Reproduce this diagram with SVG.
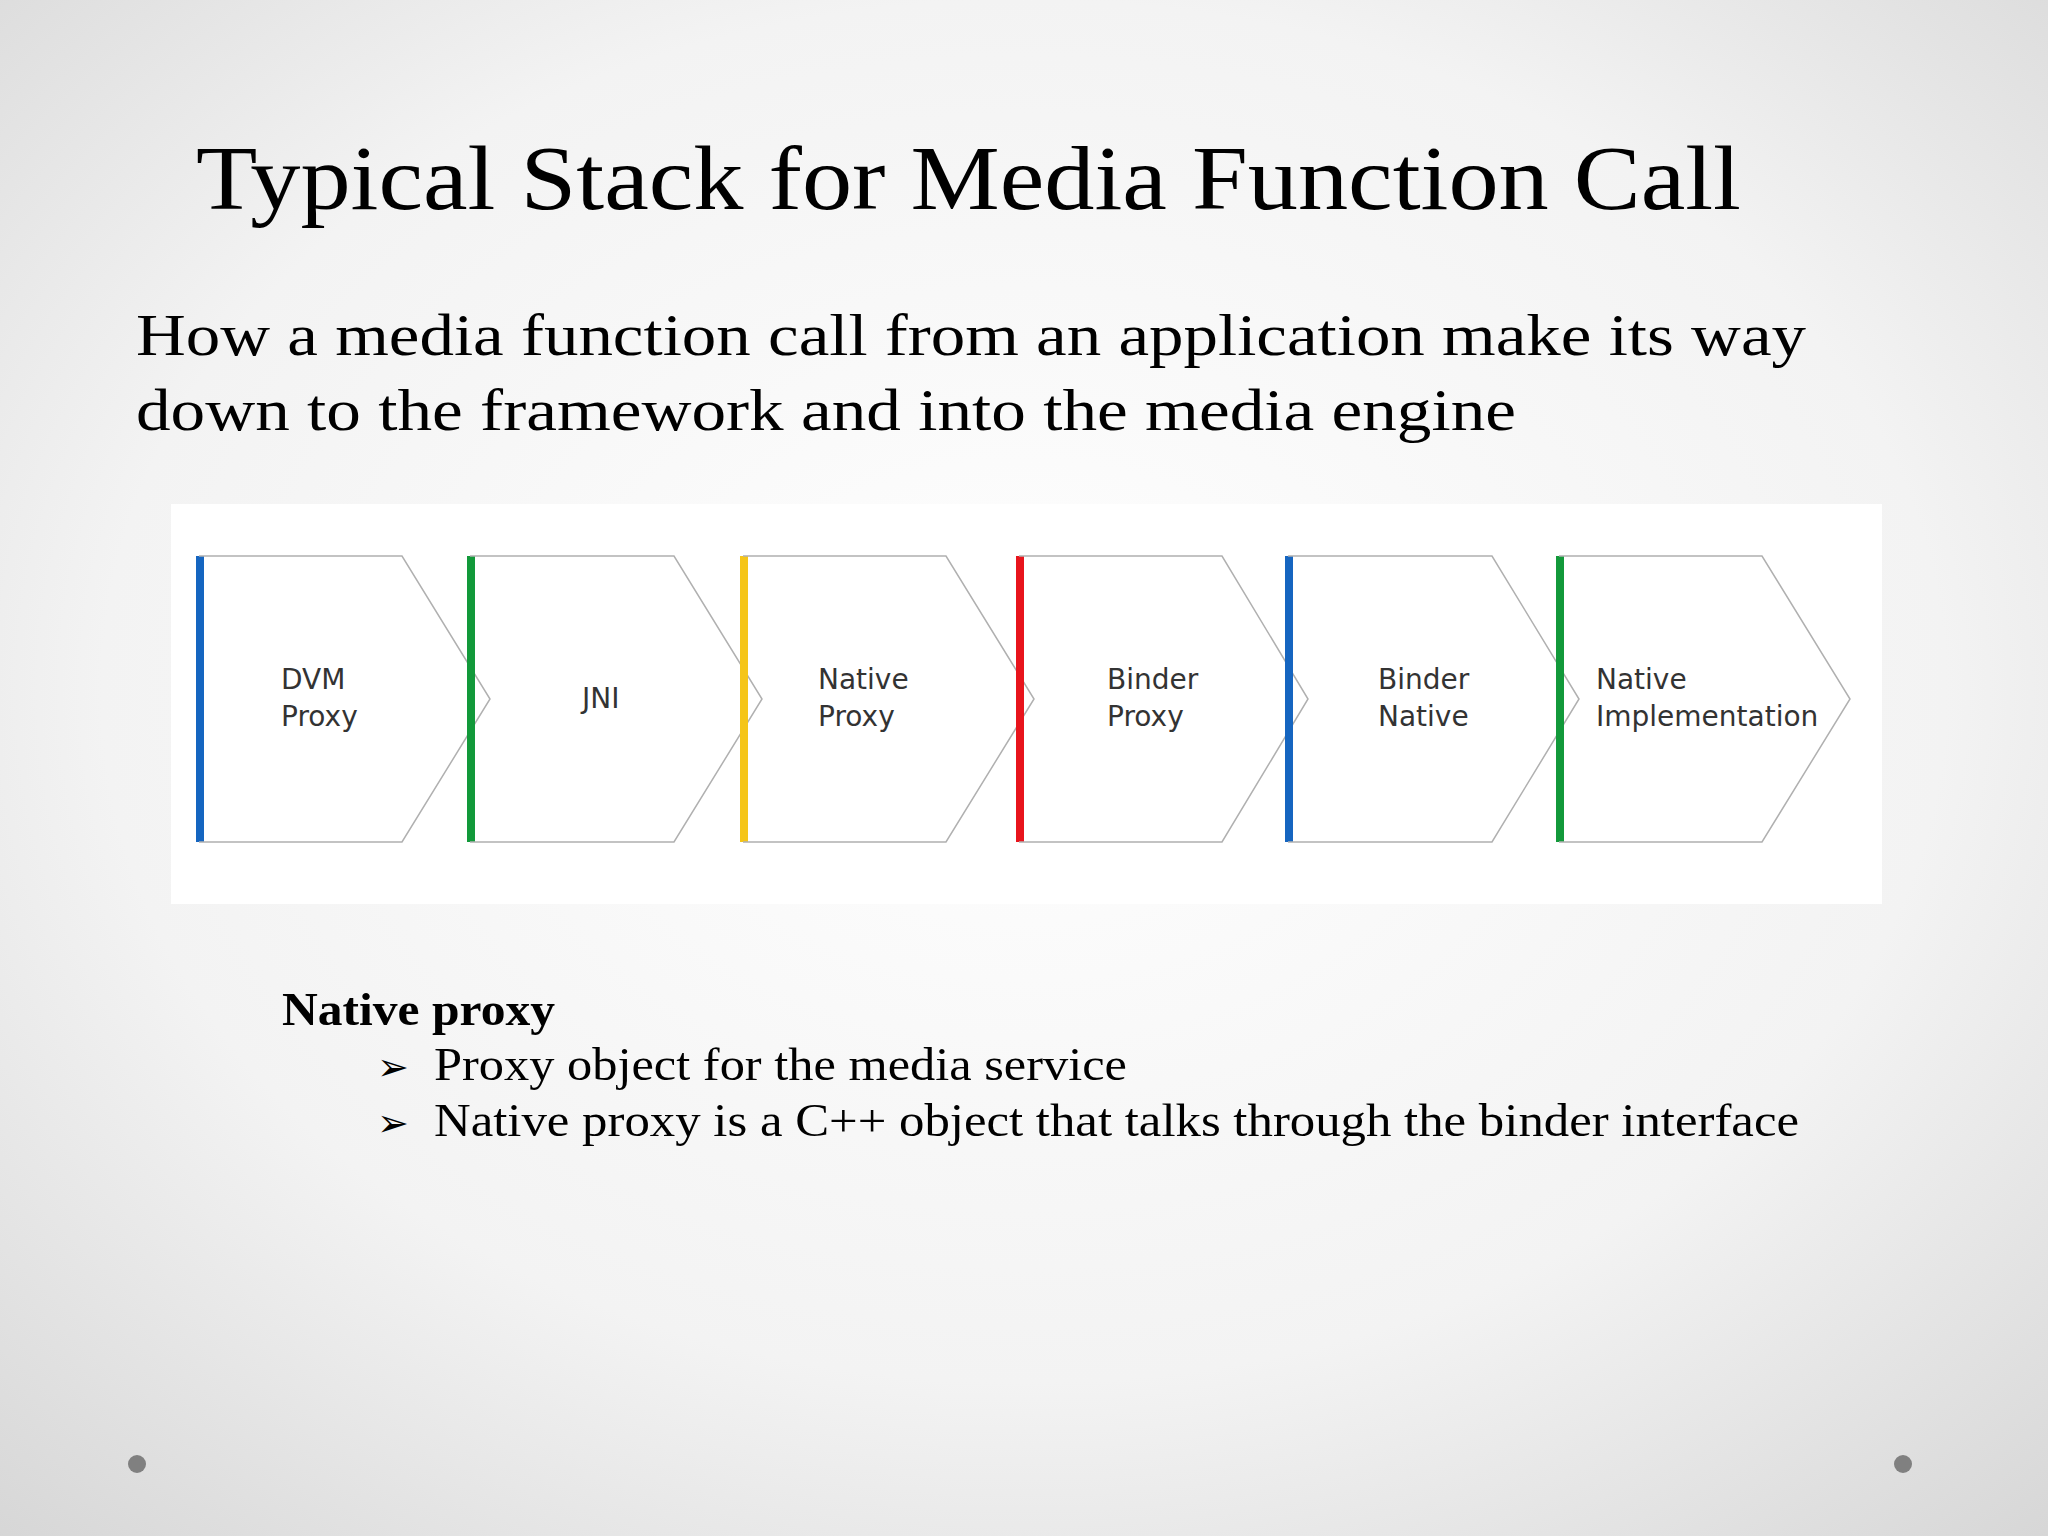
<svg xmlns="http://www.w3.org/2000/svg" width="2048" height="1536" viewBox="0 0 2048 1536">
<defs>
<radialGradient id="bg" cx="50%" cy="45%" r="75%">
<stop offset="0" stop-color="#ffffff"/><stop offset="0.6" stop-color="#f3f3f3"/><stop offset="1" stop-color="#d6d6d6"/>
</radialGradient>
</defs>
<style>
.t{font-family:"Liberation Serif","DejaVu Serif",serif;fill:#000}
.lbl{font-family:"DejaVu Sans","Liberation Sans",sans-serif;font-size:28px;fill:#333}
.chev{fill:none;stroke:#b0b0b0;stroke-width:1.5}
</style>
<rect width="2048" height="1536" fill="url(#bg)"/>
<text class="t" x="196" y="209" font-size="92" textLength="1545" lengthAdjust="spacingAndGlyphs">Typical Stack for Media Function Call</text>
<text class="t" x="136" y="355" font-size="60" textLength="1670" lengthAdjust="spacingAndGlyphs">How a media function call from an  application make its way</text>
<text class="t" x="136" y="430" font-size="60" textLength="1380" lengthAdjust="spacingAndGlyphs">down to the framework and into the media engine</text>
<rect x="171" y="504" width="1711" height="400" fill="#fff"/>
<g id="n1"><rect x="196" y="556" width="8" height="286" fill="#1565c0"/><path class="chev" d="M199,556 H402 L490,699 L402,842 H199"/><text class="lbl" x="281" y="689">DVM</text><text class="lbl" x="281" y="726">Proxy</text></g>
<g id="n2"><rect x="467" y="556" width="8" height="286" fill="#12993a"/><path class="chev" d="M470,556 H674 L762,699 L674,842 H470"/><text class="lbl" x="582" y="708">JNI</text></g>
<g id="n3"><rect x="740" y="556" width="8" height="286" fill="#f5c518"/><path class="chev" d="M743,556 H946 L1034,699 L946,842 H743"/><text class="lbl" x="818" y="689">Native</text><text class="lbl" x="818" y="726">Proxy</text></g>
<g id="n4"><rect x="1016" y="556" width="8" height="286" fill="#e8141c"/><path class="chev" d="M1019,556 H1222 L1308,699 L1222,842 H1019"/><text class="lbl" x="1107" y="689">Binder</text><text class="lbl" x="1107" y="726">Proxy</text></g>
<g id="n5"><rect x="1285" y="556" width="8" height="286" fill="#1565c0"/><path class="chev" d="M1288,556 H1492 L1579,699 L1492,842 H1288"/><text class="lbl" x="1378" y="689">Binder</text><text class="lbl" x="1378" y="726">Native</text></g>
<g id="n6"><rect x="1556" y="556" width="8" height="286" fill="#12993a"/><path class="chev" d="M1559,556 H1762 L1850,699 L1762,842 H1559"/><text class="lbl" x="1596" y="689">Native</text><text class="lbl" x="1596" y="726">Implementation</text></g>
<g id="connectors"/>
<text class="t" x="282" y="1025" font-size="47" font-weight="bold" textLength="273" lengthAdjust="spacingAndGlyphs">Native proxy</text>
<text class="t" x="377" y="1080" font-size="38">➢</text>
<text class="t" x="434" y="1080" font-size="47" textLength="693" lengthAdjust="spacingAndGlyphs">Proxy object for the media service</text>
<text class="t" x="377" y="1136" font-size="38">➢</text>
<text class="t" x="434" y="1136" font-size="47" textLength="1365" lengthAdjust="spacingAndGlyphs">Native proxy is a C++ object that talks through the binder interface</text>
<circle cx="137" cy="1464" r="9" fill="#808080"/>
<circle cx="1903" cy="1464" r="9" fill="#808080"/>
</svg>
